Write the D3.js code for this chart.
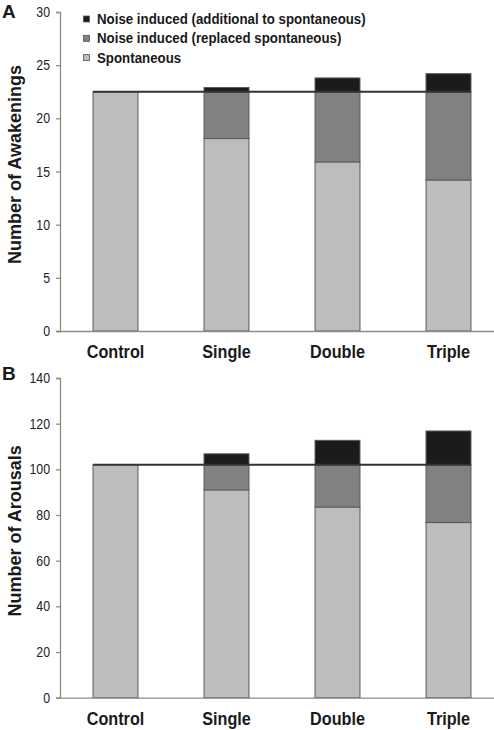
<!DOCTYPE html>
<html>
<head>
<meta charset="utf-8">
<script src="https://cdn.jsdelivr.net/npm/d3@7/dist/d3.min.js"></script>
<style>
  html, body { margin: 0; padding: 0; background: #fff; }
  svg { display: block; }
</style>
</head>
<body>
<script>
// ---- data ----
const categories = ["Control", "Single", "Double", "Triple"];
const seriesKeys = ["spont", "replaced", "additional"];
const legendLabels = [
  "Noise induced (additional to spontaneous)",
  "Noise induced (replaced spontaneous)",
  "Spontaneous"
];

const awakeSpont = [22.5, 18.1, 15.9, 14.2];
const awakeReplaced = [0, 4.4, 6.6, 8.3];
const awakeAdditional = [0, 0.4, 1.3, 1.7];
const awakeBaseline = 22.5;
const awakeTicks = [0, 5, 10, 15, 20, 25, 30];

const arousSpont = [102, 91, 83.5, 76.7];
const arousReplaced = [0, 11, 18.5, 25.3];
const arousAdditional = [0, 4.8, 10.7, 14.8];
const arousBaseline = 102;
const arousTicks = [0, 20, 40, 60, 80, 100, 120, 140];

// ---- style ----
const W = 494, H = 730;
const colors = { spont: "#bdbdbd", replaced: "#818181", additional: "#1b1b1b" };
const FONT = "'Liberation Sans', Arial, Helvetica, sans-serif";

const svg = d3.select("body").append("svg").attr("width", W).attr("height", H);

// condensed text helper
function ctext(g, x, y, str, opts) {
  const o = Object.assign({ size: 14, weight: "normal", anchor: "start", sx: 0.9, rotate: 0 }, opts);
  const t = g.append("g")
    .attr("transform", `translate(${x},${y}) rotate(${o.rotate}) scale(${o.sx},1)`)
    .append("text")
    .attr("x", 0).attr("y", 0)
    .attr("text-anchor", o.anchor)
    .attr("font-family", FONT)
    .attr("font-size", o.size)
    .attr("font-weight", o.weight)
    .attr("fill", o.fill || "#1a1a1a")
    .text(str);
  return t;
}

function panel(cfg) {
  const g = svg.append("g");
  const x = d3.scaleBand().domain(categories).range([60, 504])
    .paddingInner(0.595).paddingOuter(0.2975);
  const y = d3.scaleLinear().domain([0, cfg.max]).range([cfg.y0, cfg.y1]);

  const rows = categories.map((c, i) => ({
    cat: c, spont: cfg.spont[i], replaced: cfg.replaced[i], additional: cfg.additional[i]
  }));
  const stacked = d3.stack().keys(seriesKeys)(rows);

  // bars
  stacked.forEach(layer => {
    g.append("g").selectAll("rect")
      .data(layer.filter(d => d[1] - d[0] > 0))
      .join("rect")
      .attr("x", d => x(d.data.cat))
      .attr("width", x.bandwidth())
      .attr("y", d => y(d[1]))
      .attr("height", d => y(d[0]) - y(d[1]))
      .attr("fill", colors[layer.key])
      .attr("stroke", "#5a5a5a")
      .attr("stroke-width", 1);
  });

  // baseline reference line
  g.append("line")
    .attr("x1", x(categories[0]))
    .attr("x2", x(categories[categories.length - 1]) + x.bandwidth())
    .attr("y1", y(cfg.baseline)).attr("y2", y(cfg.baseline))
    .attr("stroke", "#333").attr("stroke-width", 2);

  // y axis
  const yAxis = g.append("g").attr("transform", "translate(60,0)")
    .call(d3.axisLeft(y).tickValues(cfg.ticks).tickSize(4).tickSizeOuter(4).tickFormat(""));
  yAxis.selectAll("path,line").attr("stroke", "#8c8c8c").attr("stroke-width", 1.3);
  cfg.ticks.forEach(t => {
    ctext(g, 50, y(t) + 5, String(t), { size: 14, anchor: "end", sx: 0.88, fill: "#222" });
  });

  // x axis
  const xAxis = g.append("g").attr("transform", `translate(0,${cfg.y0})`)
    .call(d3.axisBottom(x).tickSize(0).tickSizeOuter(0).tickFormat(""));
  xAxis.select("path").attr("d", `M57,0.5H504`).attr("stroke", "#8c8c8c").attr("stroke-width", 1.3);
  categories.forEach(c => {
    ctext(g, x(c) + x.bandwidth() / 2, cfg.y0 + 27, c, { size: 18, weight: "bold", anchor: "middle", sx: 0.9 });
  });

  // y title
  ctext(g, 21, (cfg.y0 + cfg.y1) / 2 - 7, cfg.title, { size: 18, weight: "bold", anchor: "middle", sx: 1, rotate: -90 });
  g.select("g:last-child");
  // panel letter
  ctext(g, 2, cfg.letterY, cfg.letter, { size: 19, weight: "bold", sx: 1 });
}

panel({
  spont: awakeSpont, replaced: awakeReplaced, additional: awakeAdditional,
  baseline: awakeBaseline, ticks: awakeTicks, max: 30,
  y0: 331, y1: 12, title: "Number of Awakenings", letter: "A", letterY: 18
});
panel({
  spont: arousSpont, replaced: arousReplaced, additional: arousAdditional,
  baseline: arousBaseline, ticks: arousTicks, max: 140,
  y0: 697.7, y1: 378, title: "Number of Arousals", letter: "B", letterY: 380
});

// legend
const legendKeys = ["additional", "replaced", "spont"];
const lg = svg.append("g");
legendKeys.forEach((k, i) => {
  const cy = 19 + i * 19.3;
  lg.append("rect").attr("x", 83.5).attr("y", cy - 3).attr("width", 6).attr("height", 6)
    .attr("fill", colors[k]).attr("stroke", "#555").attr("stroke-width", 0.8);
  ctext(lg, 97, cy + 5, legendLabels[i], { size: 14, weight: "bold", sx: 0.95 });
});
</script>
</body>
</html>
